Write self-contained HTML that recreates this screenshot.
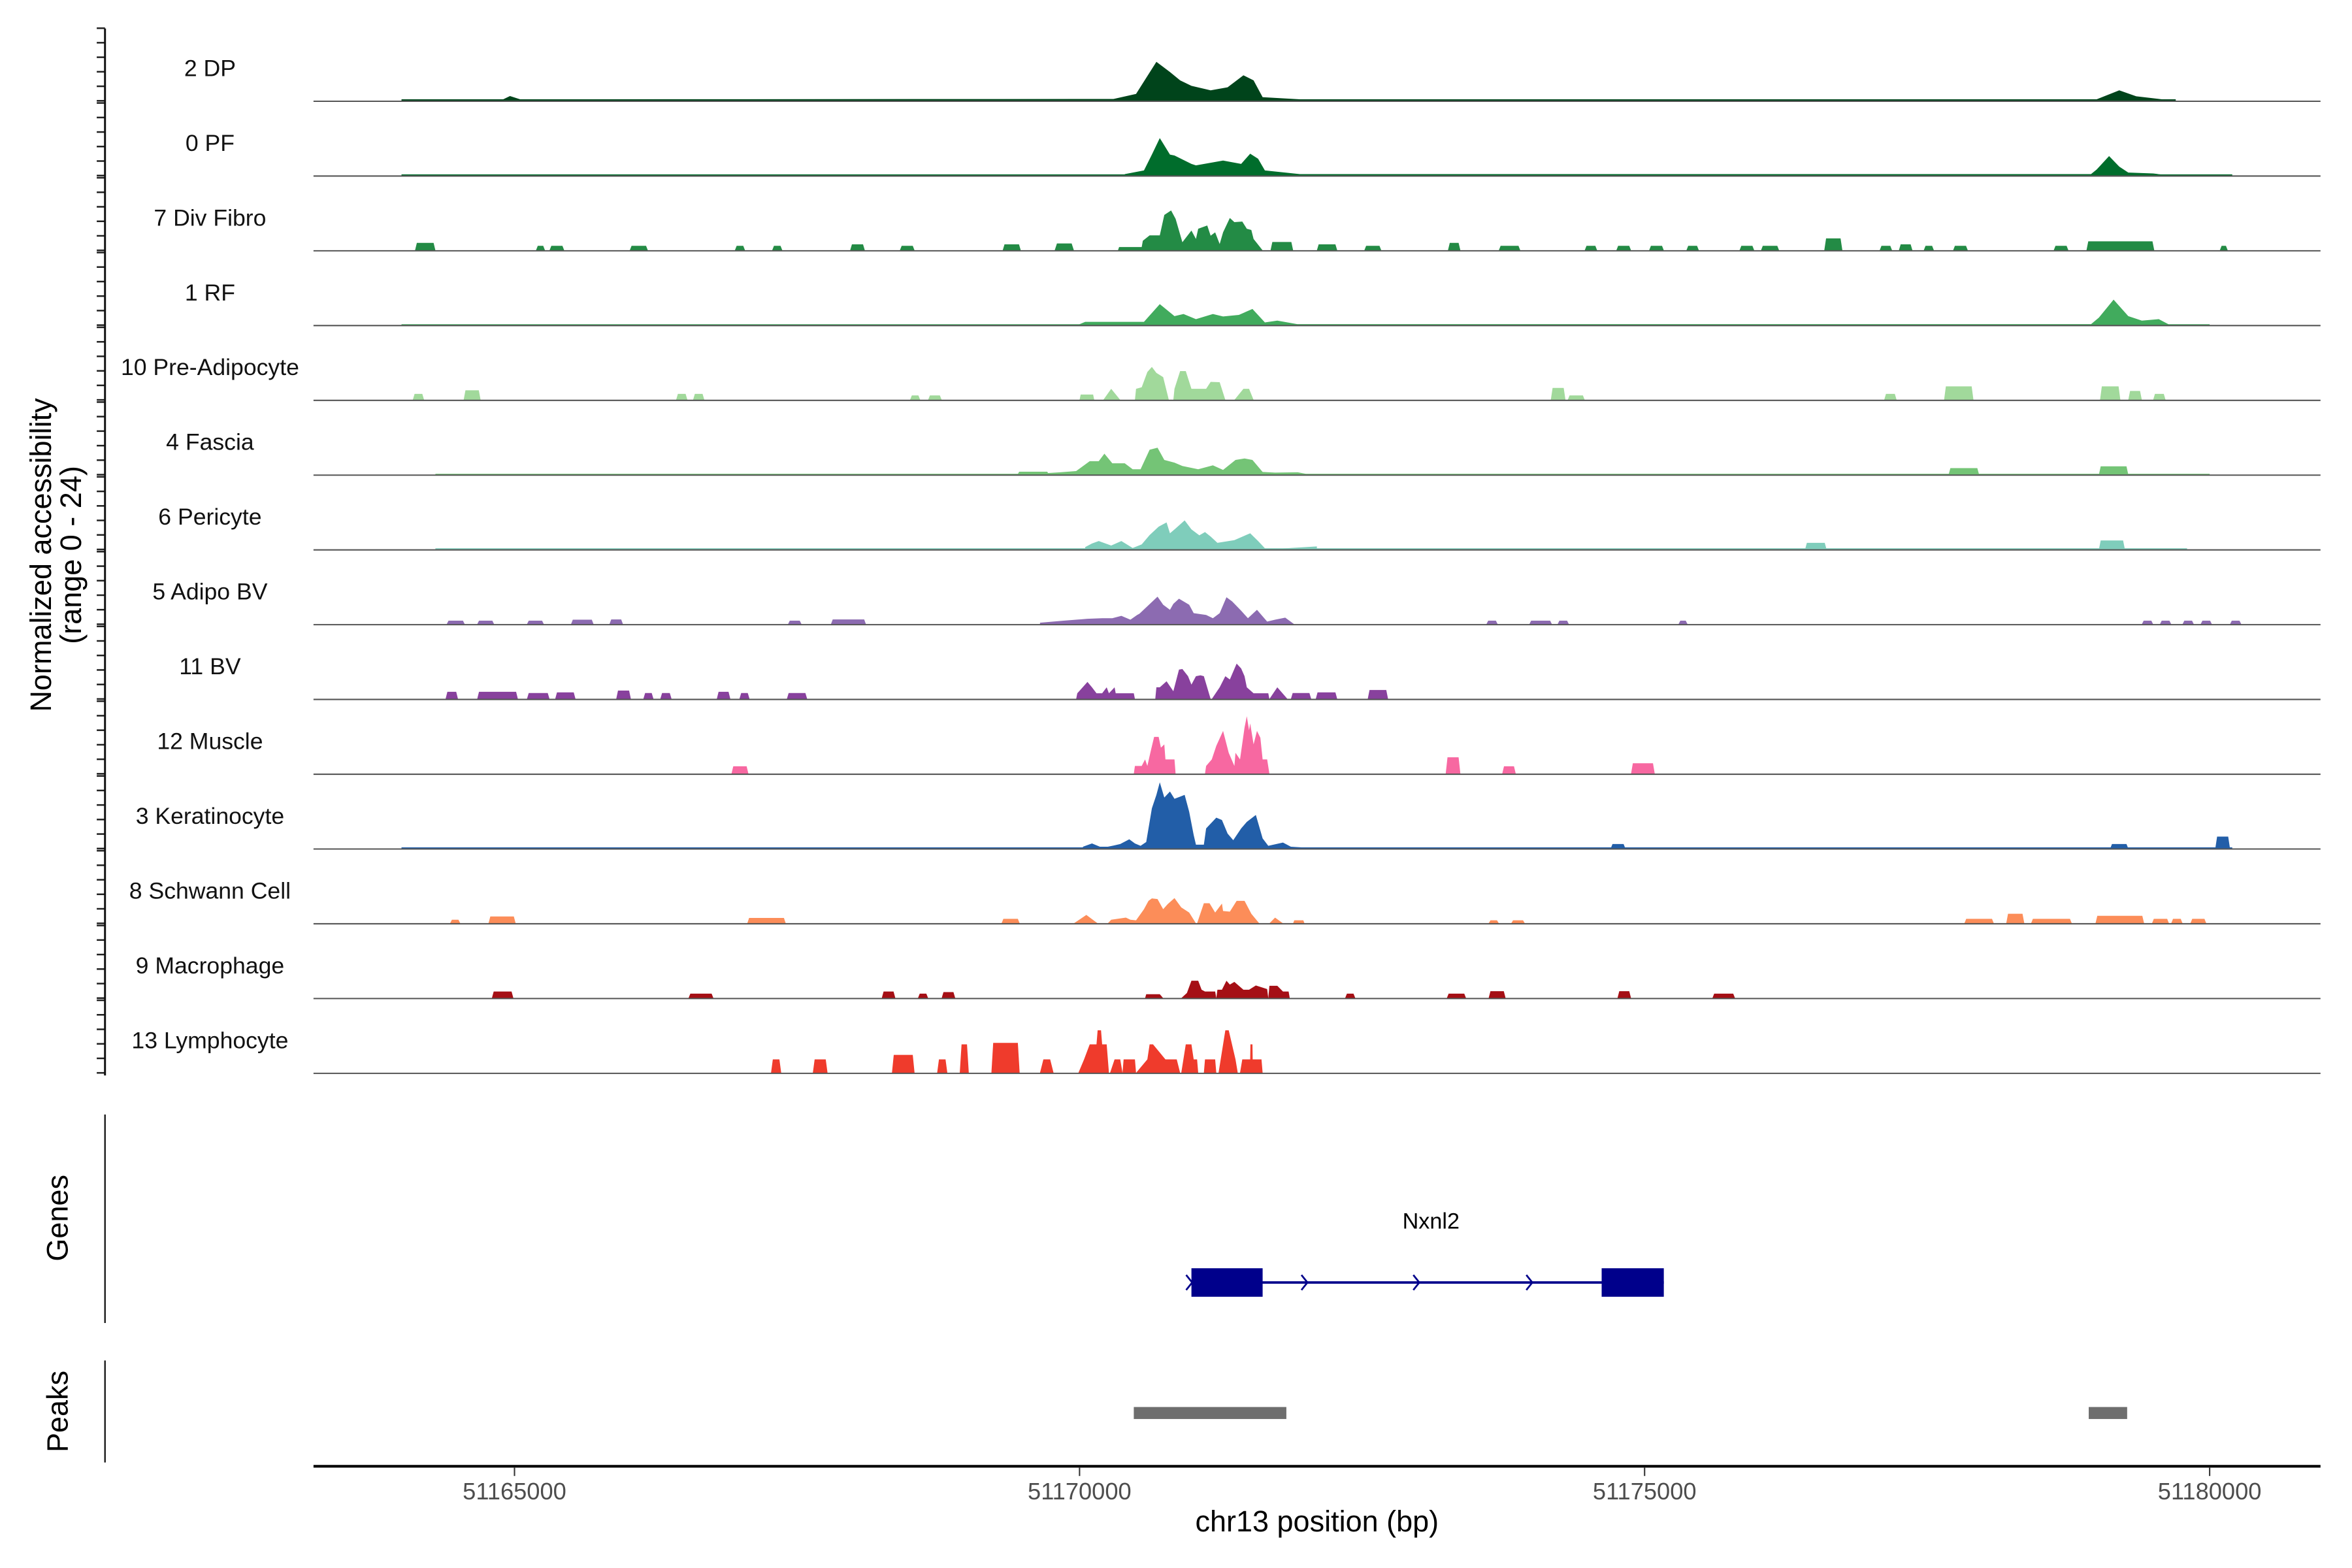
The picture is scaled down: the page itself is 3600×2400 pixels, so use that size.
<!DOCTYPE html>
<html><head><meta charset="utf-8"><style>
html,body{margin:0;padding:0;background:#fff;}
svg{display:block;}
text{font-family:"Liberation Sans",Arial,sans-serif;}
</style></head><body>
<svg id="chart" width="3600" height="2400" viewBox="0 0 1568 1045.33" preserveAspectRatio="none" xmlns="http://www.w3.org/2000/svg">
<rect x="0" y="0" width="1568" height="1046" fill="#fff"/>
<g id="tracks"></g>
<g id="axes"></g>
<text transform="translate(34,370) rotate(-90)" text-anchor="middle" font-size="19.6">Normalized accessibility</text>
<text transform="translate(54,370) rotate(-90)" text-anchor="middle" font-size="19.6">(range 0 - 24)</text>
<text transform="translate(45,812) rotate(-90)" text-anchor="middle" font-size="19.6">Genes</text>
<text transform="translate(45,941) rotate(-90)" text-anchor="middle" font-size="19.6">Peaks</text>
<text x="878" y="1021" text-anchor="middle" font-size="19.6">chr13 position (bp)</text>
</svg>
<script>
const trackLabels = ["2 DP","0 PF","7 Div Fibro","1 RF","10 Pre-Adipocyte","4 Fascia","6 Pericyte","5 Adipo BV","11 BV","12 Muscle","3 Keratinocyte","8 Schwann Cell","9 Macrophage","13 Lymphocyte"];
const trackColors = ["#00441B","#006D2C","#238B45","#41AB5D","#A1D99B","#74C476","#7FCDBB","#8C6BB1","#88419D","#F768A1","#225EA8","#FC8D59","#A50F15","#EF3B2C"];
const xTicks = [51165000,51170000,51175000,51180000];
const noiseStart = [51164000,51164000,0,51164000,0,51164300,51164300,0,0,0,51164000,0,0,0];
const noiseEnd   = [51179700,51180200,0,51180000,0,51180000,51179800,0,0,0,51180200,0,0,0];
const noiseVal   = [0.5,0.4,0,0.3,0,0.3,0.4,0,0,0,0.4,0,0,0];
const profilePos = [
 [51164900,51164960,51165050,51170300,51170500,51170680,51170800,51170890,51170990,51171160,51171310,51171450,51171540,51171620,51171950,51179000,51179100,51179200,51179350,51179600],
 [51170400,51170570,51170640,51170710,51170800,51170840,51170990,51171030,51171270,51171430,51171510,51171580,51171640,51171950,51178950,51179000,51179110,51179200,51179280,51179500,51179650],
 [51169780,51169800,51169930,51169950,51170340,51170350,51170550,51170560,51170620,51170710,51170750,51170810,51170850,51170910,51170990,51171030,51171050,51171130,51171160,51171200,51171240,51171270,51171330,51171370,51171440,51171480,51171520,51171540,51171620],
 [51170000,51170050,51170570,51170710,51170840,51170920,51171030,51171180,51171270,51171410,51171530,51171640,51171750,51171930,51178950,51179020,51179150,51179280,51179400,51179550,51179650],
 [51170000,51170010,51170120,51170130,51170210,51170280,51170360,51170490,51170500,51170550,51170600,51170640,51170680,51170740,51170790,51170830,51170840,51170890,51170940,51170990,51171070,51171120,51171160,51171240,51171290,51171370,51171450,51171500,51171540],
 [51169700,51169830,51169970,51170090,51170170,51170220,51170290,51170400,51170470,51170540,51170620,51170690,51170750,51170840,51170910,51171050,51171180,51171270,51171380,51171460,51171530,51171620,51171730,51171930,51172000],
 [51170050,51170110,51170170,51170280,51170370,51170470,51170550,51170620,51170700,51170770,51170800,51170850,51170930,51170990,51171060,51171110,51171160,51171220,51171370,51171510,51171580,51171650,51172100],
 [51169650,51169860,51170070,51170200,51170290,51170370,51170450,51170510,51170530,51170690,51170740,51170800,51170830,51170880,51170970,51171010,51171120,51171180,51171240,51171300,51171350,51171430,51171490,51171570,51171660,51171730,51171820,51171900],
 [51169970,51169980,51170070,51170110,51170150,51170200,51170240,51170260,51170310,51170320,51170480,51170490,51170670,51170680,51170710,51170770,51170830,51170880,51170910,51170960,51170990,51171030,51171070,51171100,51171160,51171170,51171240,51171290,51171330,51171390,51171430,51171460,51171480,51171540,51171670,51171680,51171750,51171840],
 [51170480,51170490,51170550,51170580,51170600,51170630,51170660,51170700,51170720,51170750,51170760,51170840,51170850,51171110,51171120,51171170,51171210,51171270,51171320,51171370,51171380,51171420,51171460,51171480,51171500,51171510,51171540,51171570,51171600,51171620,51171660,51171680],
 [51170030,51170110,51170180,51170250,51170300,51170360,51170440,51170490,51170540,51170590,51170640,51170680,51170710,51170750,51170800,51170840,51170890,51170930,51170970,51171010,51171030,51171100,51171120,51171210,51171260,51171310,51171360,51171430,51171480,51171560,51171620,51171670,51171800,51171870,51172000],
 [51169950,51170060,51170160,51170250,51170280,51170410,51170450,51170500,51170570,51170610,51170640,51170690,51170740,51170780,51170840,51170900,51170970,51171030,51171040,51171100,51171150,51171200,51171260,51171270,51171330,51171390,51171460,51171520,51171590,51171680,51171730,51171800,51171890,51171900,51171980,51171990],
 [51170580,51170590,51170710,51170740,51170900,51170950,51170990,51171050,51171080,51171110,51171200,51171210,51171220,51171260,51171300,51171330,51171370,51171450,51171500,51171560,51171660,51171670,51171680,51171750,51171800,51171850,51171860],
 [51169650,51169680,51169740,51169770,51169990,51170040,51170090,51170150,51170160,51170190,51170200,51170240,51170260,51170270,51170310,51170360,51170380,51170390,51170490,51170500,51170600,51170620,51170650,51170760,51170800,51170860,51170890,51170900,51170940,51170990,51171010,51171040,51171050,51171100,51171110,51171200,51171210,51171230,51171290,51171320,51171380,51171400,51171420,51171440,51171510,51171512,51171530,51171532,51171610,51171620]
];
const profileVal = [
 [0.5,1.6,0.5,0.6,2.3,13,9.6,6.8,5,3.5,4.5,8.5,6.8,1.2,0.5,0.5,2,3.5,1.5,0.4],
 [0.5,1.7,7,12.5,7,6.7,3.9,3.4,5,3.9,7.3,5.6,1.7,0.5,0.5,2,6.5,3,1,0.7,0],
 [0,2.3,2.3,0,0,1.1,1.1,3.2,5,5,11.8,13.3,10.5,2.7,6.6,3.8,7.2,8.3,4.9,6,2.1,6,10.8,9.4,9.6,7.2,6.8,3.8,0],
 [0.3,1.1,1.1,7,3,3.7,2,3.7,2.9,3.4,5.4,0.9,1.5,0.3,0.3,2.5,8.5,3,1.5,2,0],
 [0,1.8,1.8,0,0,3.7,0,0,3.7,4.2,9.3,11,9,7.6,0,0,3.7,9.6,9.6,3.7,3.7,3.7,6,5.9,0,0,3.7,3.7,0],
 [0.5,0.8,1.2,4.5,4.5,7,3.8,3.8,1.8,1.8,8.3,9,4.9,4,2.9,1.8,3.1,1.6,4.9,5.4,4.9,0.9,0.7,0.8,0.3],
 [0.8,2,2.8,1.3,2.8,0.5,1.7,4.8,7.6,9,5.4,7,9.7,6.7,4.7,5.8,4.3,2.2,3.1,5.4,2.8,0,1],
 [0.5,1.2,1.8,2,2,2.8,1.5,3.1,3.5,9.2,6.5,4.8,6.8,8.5,6.5,3.7,3.1,2,3.7,9,7.6,4.5,2,4.8,0.9,1.5,2.2,0],
 [0,1.9,5.7,3.9,1.9,1.9,3.9,1.9,3.9,1.9,1.9,0,0,3.9,3.9,5.9,2.6,9.8,10,7.6,4.8,7.6,7.9,7.6,0,0,3.9,7.6,6.5,11.8,10.2,7.6,3.9,1.9,1.9,0,3.9,0],
 [0,2.6,2.6,4.8,2.6,7.6,12.3,12.3,8.7,9.8,4.8,4.8,0,0,2.6,4.8,9.3,14.3,7,2.6,7,4.8,15.4,19.2,14.5,16.8,9.8,14.3,12,4.8,4.8,0],
 [0.6,1.7,0.6,0.6,1,1.5,3.1,1.7,0.9,2.2,13.4,17.9,22.1,17,19,16.6,17.3,17.9,12.3,4.5,1.3,1.3,6.7,10.3,9.5,5,2.8,6.7,8.9,11.2,3.4,0.9,2,0.6,0.3],
 [0,2.8,0,0,1.2,1.9,1.2,1,4.7,7.5,8.3,8.1,4.7,6.4,8.4,5.3,3.6,0,0,6.7,6.7,3.6,6.6,4.1,3.9,7.5,7.5,3.2,0,0,1.9,0,0,1,1,0],
 [0,1.3,1.3,0,0,1.7,5.8,5.8,2.8,2.2,2.2,0,2.8,2.8,5.8,4.5,5.4,2.8,2.8,4.2,3,0,4.1,4.1,2.2,2.2,0],
 [0,4.5,4.5,0,0,4.5,9.5,9.5,14.2,14.2,9.5,9.5,0,0,4.5,4.5,0,4.5,4.5,0,4.5,9.5,9.5,4.5,4.5,4.5,0,0,9.5,9.5,4.5,4.5,0,0,4.5,4.5,0,0,14.2,14.2,4.5,0,0,4.5,4.5,9.5,9.5,4.5,4.5,0]
];
const blockStart = [
 [],
 [],
 [51164120,51165190,51165310,51166020,51166950,51167280,51167970,51168410,51169320,51171690,51172100,51172520,51173260,51173710,51174470,51174750,51175040,51175370,51175840,51176030,51176590,51177080,51177250,51177470,51177730,51178620,51178910,51180090],
 [],
 [51164100,51164550,51166430,51166580,51168500,51168660,51174170,51174320,51177120,51177650,51179030,51179280,51179500],
 [51169450,51177690,51179020],
 [51176420,51179020],
 [51164400,51164670,51165110,51165500,51165840,51167420,51167800,51173600,51173980,51174230,51175300,51179400,51179560,51179760,51179920,51180180],
 [51164390,51164670,51165110,51165360,51165900,51166140,51166290,51166790,51166990,51167410,51171870,51172090,51172550],
 [51166920,51173240,51173740,51174880],
 [51179120,51180050,51174700],
 [51164430,51164770,51167060,51169310,51173620,51173820,51177830,51178200,51178420,51178990,51179490,51179660,51179830],
 [51164800,51166540,51168250,51168570,51168780,51172350,51173250,51173620,51174760,51175600],
 [51167270,51167640,51168340,51168740,51168940,51169220]
];
const blockEnd = [
 [],
 [],
 [51164300,51165270,51165440,51166180,51167040,51167370,51168100,51168540,51169480,51171890,51172280,51172670,51173370,51173900,51174580,51174880,51175170,51175480,51175970,51176190,51176750,51177190,51177370,51177560,51177860,51178750,51179510,51180160],
 [],
 [51164200,51164700,51166530,51166680,51168590,51168780,51174300,51174470,51177230,51177910,51179210,51179400,51179610],
 [51169730,51177960,51179280],
 [51176610,51179250],
 [51164560,51164820,51165260,51165700,51165960,51167540,51168110,51173700,51174180,51174330,51175380,51179500,51179660,51179860,51180020,51180280],
 [51164500,51165030,51165310,51165540,51166030,51166230,51166390,51166910,51167080,51167590,51172050,51172280,51172730],
 [51167070,51173370,51173860,51175090],
 [51179280,51180180,51174830],
 [51164520,51165010,51167400,51169470,51173710,51173940,51178090,51178360,51178780,51179420,51179640,51179760,51179970],
 [51164990,51166760,51168370,51168660,51168900,51172440,51173420,51173770,51174880,51175800],
 [51167360,51167770,51168540,51168830,51169020,51169470]
];
const blockVal = [
 [],
 [],
 [2.5,1.5,1.5,1.5,1.5,1.5,2,1.5,2,2.8,2,1.5,2.5,1.5,1.5,1.5,1.5,1.5,1.5,1.5,4,1.5,2,1.5,1.5,1.5,3,1.5],
 [],
 [2,3.2,2,2,1.5,1.5,4,1.5,2,4.5,4.5,3,2],
 [1,2.2,2.8],
 [2.2,3],
 [1.2,1.2,1.2,1.5,1.6,1.2,1.6,1.2,1.2,1.2,1.2,1.2,1.2,1.2,1.2,1.2],
 [2.4,2.4,2,2.2,2.8,2,2,2.4,2,2,2,2.2,3],
 [2.5,5.5,2.5,3.5],
 [1.5,4,1.5],
 [1.2,2.3,1.8,1.5,1,1,1.5,3.2,1.5,2.5,1.5,1.5,1.5],
 [2.2,1.5,2.2,1.5,2,1.5,1.5,2.3,2.3,1.5],
 [4.5,4.5,6,4.5,9.5,10]
];
const geneExonStart = [51170990,51174620];
const geneExonEnd = [51171620,51175170];
const geneArrowPos = [51170970,51171990,51172980,51173980];
const peakStart = [51170480,51178930];
const peakEnd = [51171830,51179270];

const NS = "http://www.w3.org/2000/svg";
const X0 = 343, BP0 = 51165000, PXPERBP = 376.7/5000;
const PLOT_L = 209, PLOT_R = 1547;
function xs(bp){ return X0 + (bp - BP0) * PXPERBP; }
function baseY(i){ return 67.2 + i * 49.85; }
function ys(i, v){ return baseY(i) - v * 2.0; }
function mk(tag, attrs, parent){
  const el = document.createElementNS(NS, tag);
  for (const k in attrs) el.setAttribute(k, attrs[k]);
  parent.appendChild(el);
  return el;
}
const tracks = document.getElementById('tracks');
const axes = document.getElementById('axes');

trackLabels.forEach((lab, i) => {
  const g = mk('g', {}, tracks);
  
  
  const col = trackColors[i];
  const b = baseY(i);
  if (noiseVal[i] > 0) {
    const r = mk('rect', {x: xs(noiseStart[i]), y: ys(i, noiseVal[i]), width: xs(noiseEnd[i]) - xs(noiseStart[i]), height: b - ys(i, noiseVal[i]), fill: col}, g);
    
    
  }
  blockStart[i].forEach((s, j) => {
    const e = blockEnd[i][j], h = blockVal[i][j];
    const x1 = xs(s), x2 = xs(e), t = Math.min(1.2, (x2 - x1) / 4);
    const p = mk('path', {d: `M${x1},${b}L${x1 + t},${ys(i, h)}L${x2 - t},${ys(i, h)}L${x2},${b}Z`, fill: col}, g);
    
    
  });
  const pos = profilePos[i], val = profileVal[i];
  if (pos.length) {
    let d = `M${xs(pos[0])},${b}`;
    pos.forEach((q, j) => { d += `L${xs(q)},${ys(i, val[j])}`; });
    d += `L${xs(pos[pos.length - 1])},${b}Z`;
    const p = mk('path', {d: d, fill: col}, g);
    
    
  }
  const ln = mk('line', {x1: PLOT_L, x2: PLOT_R, y1: b + 0.3, y2: b + 0.3, stroke: '#555', 'stroke-width': 0.9}, g);
  
  
  const t = mk('text', {x: 140, y: b - 16.5, 'text-anchor': 'middle', 'font-size': 15.5, fill: '#111'}, g);
  t.textContent = lab;
  
  
  for (let k = 0; k <= 5; k++) {
    const ty = b - 48.4 + k * 9.68;
    const tk = mk('line', {x1: 64.5, x2: 70, y1: ty, y2: ty, stroke: '#222', 'stroke-width': 1.1}, axes);
    
    
  }
});

const yl = mk('line', {x1: 70, x2: 70, y1: 19, y2: 717, stroke: '#111', 'stroke-width': 1.3}, axes);


const gl = mk('line', {x1: 70, x2: 70, y1: 743, y2: 882, stroke: '#111', 'stroke-width': 1}, axes);


const pl = mk('line', {x1: 70, x2: 70, y1: 907, y2: 975, stroke: '#111', 'stroke-width': 1}, axes);



const gg = mk('g', {}, axes);


const intron = mk('line', {x1: xs(geneExonStart[0]), x2: xs(geneExonEnd[1]), y1: 855, y2: 855, stroke: '#00008B', 'stroke-width': 1.6}, gg);


geneExonStart.forEach((s, j) => {
  const r = mk('rect', {x: xs(s), y: 845.5, width: xs(geneExonEnd[j]) - xs(s), height: 19, fill: '#00008B'}, gg);
  
  
});
geneArrowPos.forEach(p0 => {
  const x = xs(p0);
  const a = mk('path', {d: `M${x - 2},${850}L${x + 2},${855}L${x - 2},${860}`, fill: 'none', stroke: '#00008B', 'stroke-width': 1.2}, gg);
  
  
});
const gt = mk('text', {x: 954, y: 819, 'text-anchor': 'middle', 'font-size': 14.9, fill: '#000'}, gg);
gt.textContent = 'Nxnl2';



peakStart.forEach((s, j) => {
  const r = mk('rect', {x: xs(s), y: 938, width: xs(peakEnd[j]) - xs(s), height: 8, fill: '#6E6E6E'}, axes);
  
  
});

const xl = mk('line', {x1: PLOT_L, x2: PLOT_R, y1: 977.5, y2: 977.5, stroke: '#000', 'stroke-width': 1.8}, axes);


xTicks.forEach(v => {
  const tk = mk('line', {x1: xs(v), x2: xs(v), y1: 978, y2: 984, stroke: '#333', 'stroke-width': 0.9}, axes);
  
  
  const tl = mk('text', {x: xs(v), y: 999.5, 'text-anchor': 'middle', 'font-size': 15.8, fill: '#4D4D4D'}, axes);
  tl.textContent = String(v);
  
  
});
</script>
</body></html>
